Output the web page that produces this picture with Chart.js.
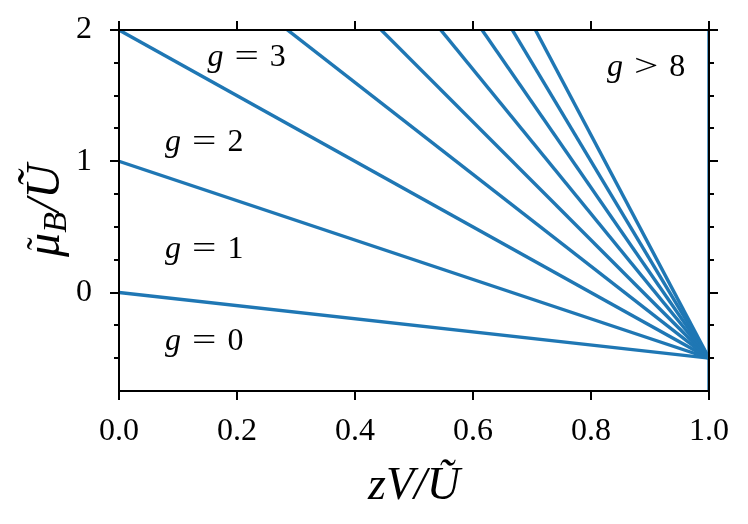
<!DOCTYPE html>
<html>
<head>
<meta charset="utf-8">
<script src="https://cdn.jsdelivr.net/npm/chart.js@4.4.1/dist/chart.umd.min.js"></script>
<style>
  html, body { margin: 0; padding: 0; background: #fff; }
  #wrap { width: 748px; height: 524px; position: relative; }
</style>
</head>
<body>
<div id="wrap"><canvas id="chart"></canvas></div>
<script>
// --- data ---
const gLevels  = [0, 1, 2, 3, 4, 5, 6, 7, 8];
const startX   = [0, 0, 0, 0, 0, 0, 0, 0, 0];
const startMu  = [0, 1, 2, 3, 4, 5, 6, 7, 8];
const endX     = [1, 1, 1, 1, 1, 1, 1, 1, 1];
const endMu    = [-0.5, -0.5, -0.5, -0.5, -0.5, -0.5, -0.5, -0.5, -0.5];
const limitX   = [1, 1];
const limitMu  = [-0.75, 2];

const xTicks      = [0, 0.2, 0.4, 0.6, 0.8, 1.0];
const xTickLabels = ['0.0', '0.2', '0.4', '0.6', '0.8', '1.0'];
const yTicks      = [0, 1, 2];
const yTickLabels = ['0', '1', '2'];
const yMinorTicks = [-0.5, -0.25, 0.25, 0.5, 0.75, 1.25, 1.5, 1.75];

const annText = ['0', '1', '2', '3', '8'];
const annRel  = ['=', '=', '=', '=', '>'];

// label placement (data coords of left edge / vertical centre)
const annPos = [
  { x: 0.078, y: -0.37 },
  { x: 0.078, y: 0.33 },
  { x: 0.078, y: 1.14 },
  { x: 0.150, y: 1.79 },
  { x: 0.827, y: 1.71 }
];

const BLUE = '#1f77b4';
const SERIF = '"Liberation Serif", "DejaVu Serif", serif';

const datasets = gLevels.map((g, i) => ({
  label: 'g = ' + g,
  data: [{ x: startX[i], y: startMu[i] }, { x: endX[i], y: endMu[i] }],
  borderColor: BLUE,
  borderWidth: 3.4,
  pointRadius: 0,
  fill: false
}));
datasets.push({
  label: 'g → ∞',
  data: limitX.map((x, i) => ({ x: x, y: limitMu[i] })),
  borderColor: BLUE,
  borderWidth: 3.4,
  pointRadius: 0,
  fill: false
});

// stretched relation sign, closer to the TeX look
function drawRel(ctx, sym, x, y) {
  const w = ctx.measureText(sym).width;
  const sx = 1.35;
  ctx.save();
  ctx.translate(x, y);
  ctx.scale(sx, 1);
  ctx.fillText(sym, 0, 0);
  ctx.restore();
  return w * sx;
}

// frame, mirrored ticks, minor ticks, annotations and axis titles
const framePlugin = {
  id: 'frame',
  afterDraw(chart) {
    const ctx = chart.ctx;
    const a = chart.chartArea;
    const xs = chart.scales.x, ys = chart.scales.y;
    ctx.save();
    ctx.strokeStyle = '#000';
    ctx.lineWidth = 2;
    ctx.strokeRect(a.left, a.top, a.right - a.left, a.bottom - a.top);

    const major = 9, minor = 5;
    ctx.beginPath();
    xTicks.forEach(v => {
      const px = Math.round(xs.getPixelForValue(v));
      ctx.moveTo(px, a.bottom); ctx.lineTo(px, a.bottom + major);
      ctx.moveTo(px, a.top);    ctx.lineTo(px, a.top - major);
    });
    yTicks.forEach(v => {
      const py = Math.round(ys.getPixelForValue(v));
      ctx.moveTo(a.left, py);  ctx.lineTo(a.left - major, py);
      ctx.moveTo(a.right, py); ctx.lineTo(a.right + major, py);
    });
    yMinorTicks.forEach(v => {
      const py = Math.round(ys.getPixelForValue(v));
      ctx.moveTo(a.left, py);  ctx.lineTo(a.left - minor, py);
      ctx.moveTo(a.right, py); ctx.lineTo(a.right + minor, py);
    });
    ctx.stroke();

    // annotations: italic g, relation, number
    ctx.fillStyle = '#000';
    ctx.textBaseline = 'middle';
    ctx.textAlign = 'left';
    annPos.forEach((p, i) => {
      let px = xs.getPixelForValue(p.x);
      const py = ys.getPixelForValue(p.y);
      ctx.font = 'italic 32px ' + SERIF;
      ctx.fillText('g', px, py);
      px += ctx.measureText('g').width + 11;
      ctx.font = '32px ' + SERIF;
      px += drawRel(ctx, annRel[i], px, py) + 11;
      ctx.fillText(annText[i], px, py);
    });

    // x title: zV/Ũ
    const cx = (a.left + a.right) / 2;
    ctx.font = 'italic 46px ' + SERIF;
    ctx.textAlign = 'center';
    ctx.textBaseline = 'alphabetic';
    ctx.fillText('zV/Ũ', cx, 499);

    // y title: μ̃_B/Ũ (rotated)
    ctx.translate(45, (a.top + a.bottom) / 2);
    ctx.rotate(-Math.PI / 2);
    const big = 'italic 48px ' + SERIF, small = 'italic 34px ' + SERIF;
    ctx.font = big;
    const wMu = ctx.measureText('μ').width;
    const wSl = ctx.measureText('/Ũ').width;
    ctx.font = small;
    const wB = ctx.measureText('B').width;
    let tx = -(wMu + wB + wSl) / 2;
    ctx.textAlign = 'left';
    ctx.textBaseline = 'alphabetic';
    const base = 14;
    ctx.font = big;
    ctx.fillText('μ', tx, base);
    ctx.font = '38px ' + SERIF;
    ctx.textAlign = 'center';
    ctx.fillText('˜', tx + wMu * 0.55, base - 6);
    ctx.textAlign = 'left';
    tx += wMu;
    ctx.font = small;
    ctx.fillText('B', tx, base + 7);
    tx += wB;
    ctx.font = big;
    ctx.fillText('/Ũ', tx, base);
    ctx.restore();
  }
};

new Chart(document.getElementById('chart'), {
  type: 'line',
  data: { datasets: datasets },
  options: {
    responsive: true,
    maintainAspectRatio: false,
    animation: false,
    layout: { padding: { left: 0, top: 30, right: 39, bottom: 0 } },
    plugins: { legend: { display: false }, tooltip: { enabled: false } },
    scales: {
      x: {
        type: 'linear',
        min: 0, max: 1,
        border: { display: false },
        grid: { display: false, drawTicks: false },
        afterBuildTicks: s => { s.ticks = xTicks.map(v => ({ value: v })); },
        afterFit: s => { s.height = 133; s.paddingLeft = 0; s.paddingRight = 0; },
        ticks: {
          padding: 21,
          color: '#000',
          font: { family: SERIF, size: 32 },
          maxRotation: 0,
          callback: v => xTickLabels[xTicks.indexOf(v)]
        }
      },
      y: {
        type: 'linear',
        min: -0.75, max: 2,
        border: { display: false },
        grid: { display: false, drawTicks: false },
        afterBuildTicks: s => { s.ticks = yTicks.map(v => ({ value: v })); },
        afterFit: s => { s.width = 119; s.paddingTop = 0; s.paddingBottom = 0; },
        ticks: {
          padding: 27,
          color: '#000',
          font: { family: SERIF, size: 32 },
          callback: v => yTickLabels[yTicks.indexOf(v)]
        }
      }
    }
  },
  plugins: [framePlugin]
});
</script>
</body>
</html>
